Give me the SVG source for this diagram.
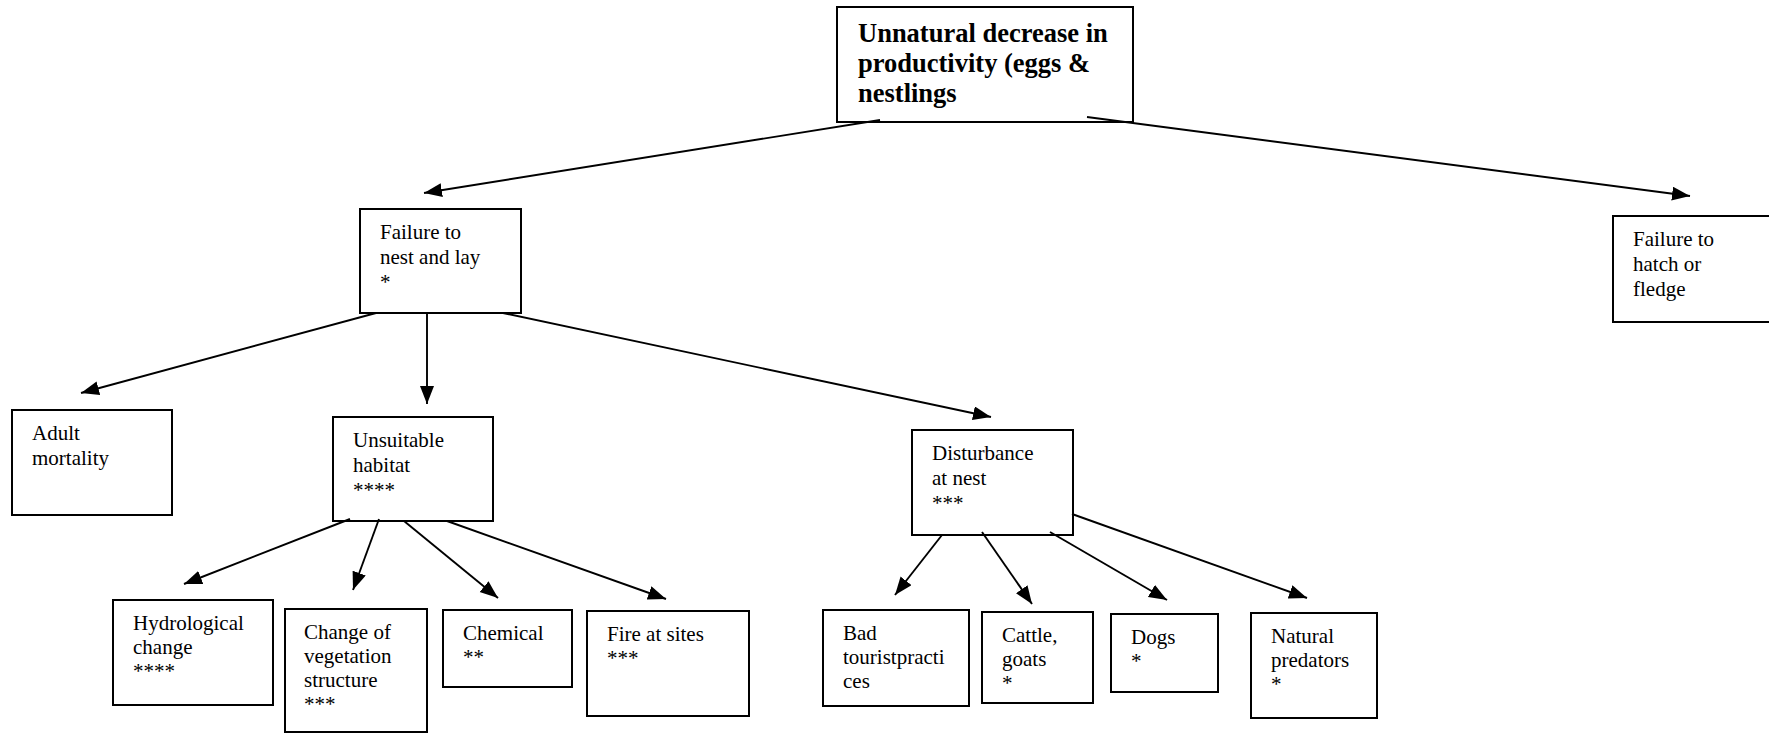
<svg xmlns="http://www.w3.org/2000/svg" width="1769" height="733" viewBox="0 0 1769 733">
<style>
.box{fill:#fff;stroke:#000;stroke-width:2}
.t{font-family:"Liberation Serif","Times New Roman",serif;font-size:21px;fill:#000}
.tb{font-family:"Liberation Serif","Times New Roman",serif;font-size:26.5px;font-weight:bold;fill:#000}
.c line{stroke:#000;stroke-width:1.9;marker-end:url(#ah)}
</style>
<defs>
<marker id="ah" markerUnits="userSpaceOnUse" markerWidth="19" markerHeight="15" refX="18" refY="7" orient="auto">
<path d="M0,0 L18,7 L0,14 z" fill="#000"/>
</marker>
</defs>
<rect width="1769" height="733" fill="#fff"/>
<g id="n-top"><rect class="box" x="837" y="7" width="296" height="115"/>
<text class="tb" x="858"><tspan x="858" y="42">Unnatural decrease in</tspan><tspan x="858" y="72">productivity (eggs &amp;</tspan><tspan x="858" y="102">nestlings</tspan></text></g>
<g id="n-nest"><rect class="box" x="360" y="209" width="161" height="104"/>
<text class="t"><tspan x="380" y="239">Failure to</tspan><tspan x="380" y="264">nest and lay</tspan><tspan x="380" y="289">*</tspan></text></g>
<g id="n-hatch"><rect class="box" x="1613" y="216" width="170" height="106"/>
<text class="t"><tspan x="1633" y="246">Failure to</tspan><tspan x="1633" y="271">hatch or</tspan><tspan x="1633" y="296">fledge</tspan></text></g>
<g id="n-adult"><rect class="box" x="12" y="410" width="160" height="105"/>
<text class="t"><tspan x="32" y="440">Adult</tspan><tspan x="32" y="465">mortality</tspan></text></g>
<g id="n-habitat"><rect class="box" x="333" y="417" width="160" height="104"/>
<text class="t"><tspan x="353" y="447">Unsuitable</tspan><tspan x="353" y="472">habitat</tspan><tspan x="353" y="497">****</tspan></text></g>
<g id="n-disturb"><rect class="box" x="912" y="430" width="161" height="105"/>
<text class="t"><tspan x="932" y="460">Disturbance</tspan><tspan x="932" y="485">at nest</tspan><tspan x="932" y="510">***</tspan></text></g>
<g id="n-hydro"><rect class="box" x="113" y="600" width="160" height="105"/>
<text class="t"><tspan x="133" y="630">Hydrological</tspan><tspan x="133" y="654">change</tspan><tspan x="133" y="678">****</tspan></text></g>
<g id="n-veg"><rect class="box" x="285" y="609" width="142" height="123"/>
<text class="t"><tspan x="304" y="639">Change of</tspan><tspan x="304" y="663">vegetation</tspan><tspan x="304" y="687">structure</tspan><tspan x="304" y="711">***</tspan></text></g>
<g id="n-chem"><rect class="box" x="443" y="610" width="129" height="77"/>
<text class="t"><tspan x="463" y="640">Chemical</tspan><tspan x="463" y="664">**</tspan></text></g>
<g id="n-fire"><rect class="box" x="587" y="611" width="162" height="105"/>
<text class="t"><tspan x="607" y="641">Fire at sites</tspan><tspan x="607" y="665">***</tspan></text></g>
<g id="n-bad"><rect class="box" x="823" y="610" width="146" height="96"/>
<text class="t"><tspan x="843" y="640">Bad</tspan><tspan x="843" y="664">touristpracti</tspan><tspan x="843" y="688">ces</tspan></text></g>
<g id="n-cattle"><rect class="box" x="982" y="612" width="111" height="91"/>
<text class="t"><tspan x="1002" y="642">Cattle,</tspan><tspan x="1002" y="666">goats</tspan><tspan x="1002" y="690">*</tspan></text></g>
<g id="n-dogs"><rect class="box" x="1111" y="614" width="107" height="78"/>
<text class="t"><tspan x="1131" y="644">Dogs</tspan><tspan x="1131" y="668">*</tspan></text></g>
<g id="n-pred"><rect class="box" x="1251" y="613" width="126" height="105"/>
<text class="t"><tspan x="1271" y="643">Natural</tspan><tspan x="1271" y="667">predators</tspan><tspan x="1271" y="691">*</tspan></text></g>
<g id="connectors" class="c">
<line x1="880" y1="120" x2="424" y2="193"/>
<line x1="1087" y1="117" x2="1690" y2="196"/>
<line x1="376" y1="313" x2="81" y2="393"/>
<line x1="427" y1="313" x2="427" y2="404"/>
<line x1="503" y1="313" x2="991" y2="417"/>
<line x1="350" y1="519" x2="184" y2="584"/>
<line x1="379" y1="519" x2="353" y2="590"/>
<line x1="404" y1="521" x2="498" y2="598"/>
<line x1="447" y1="521" x2="666" y2="599"/>
<line x1="942" y1="535" x2="895" y2="595"/>
<line x1="982" y1="532" x2="1032" y2="604"/>
<line x1="1050" y1="532" x2="1167" y2="600"/>
<line x1="1072" y1="514" x2="1307" y2="598"/>
</g>
</svg>
